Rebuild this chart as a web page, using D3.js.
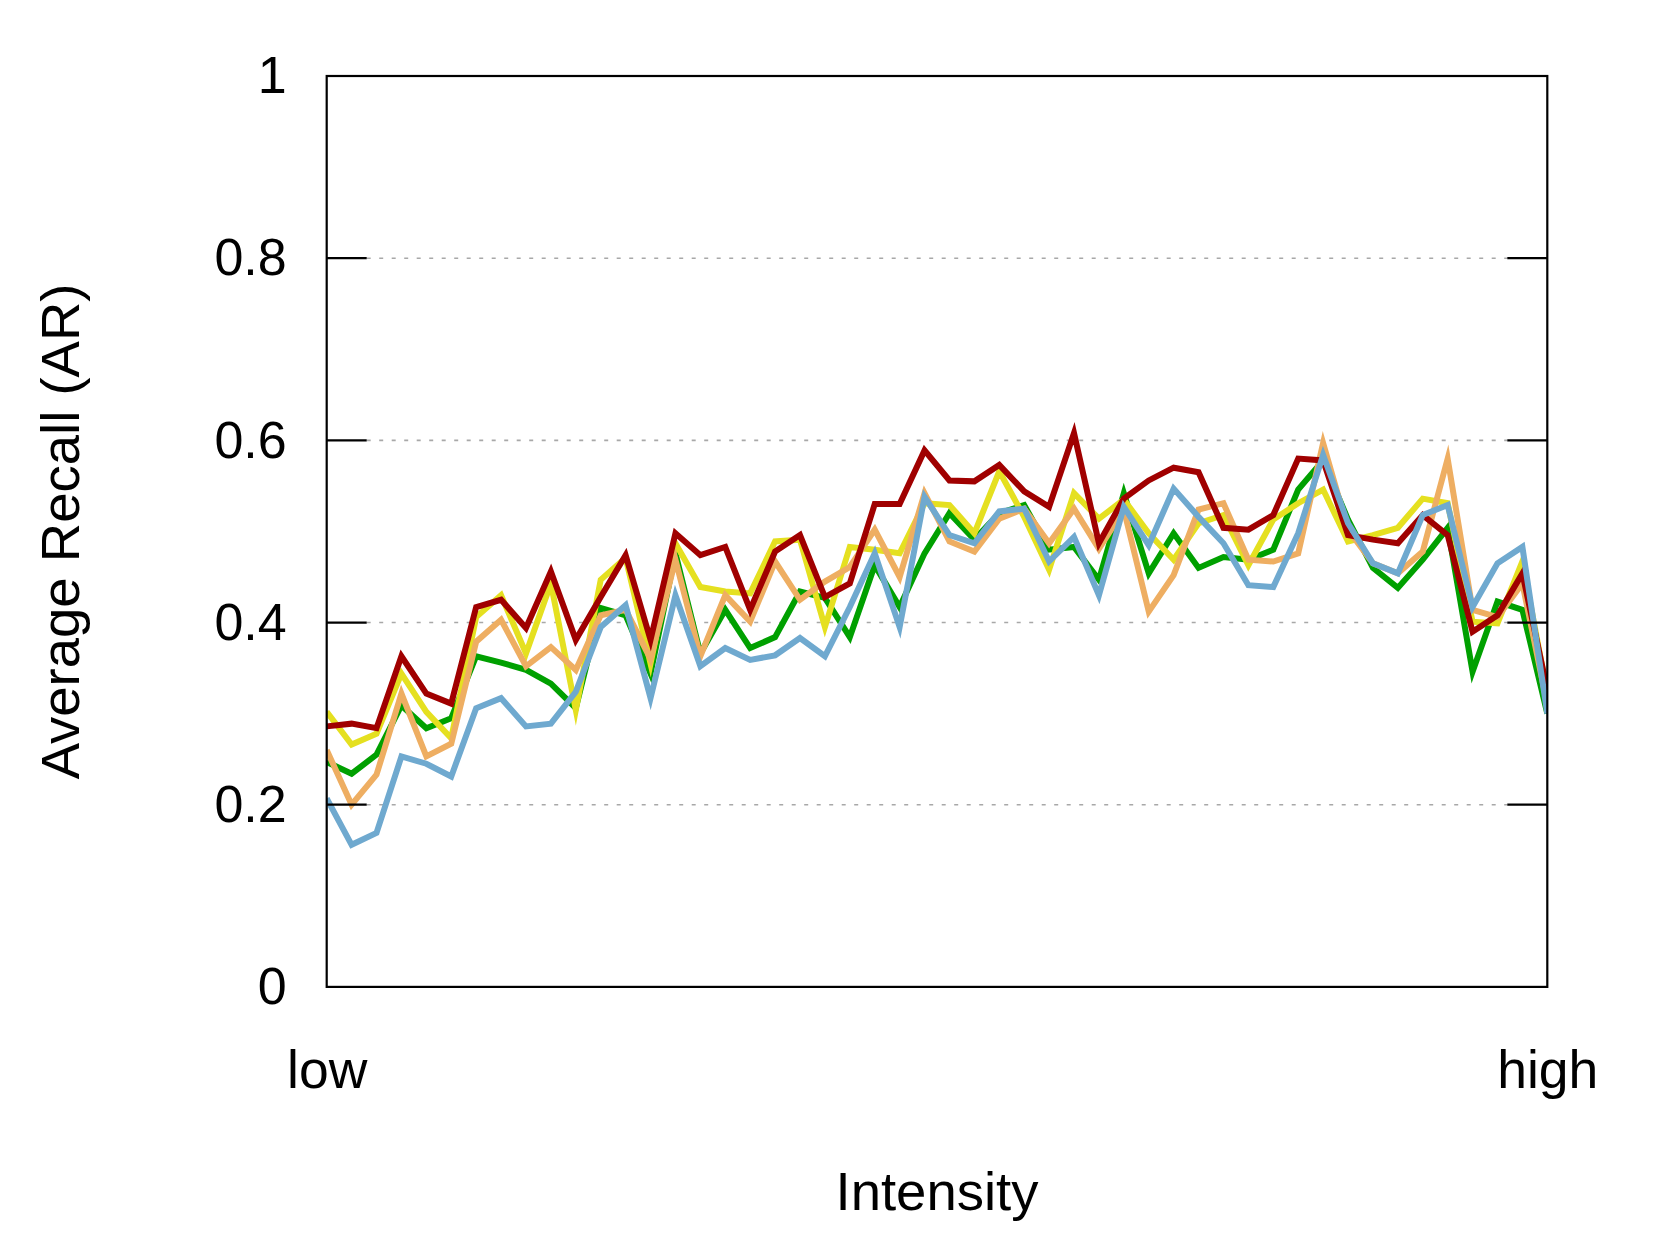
<!DOCTYPE html>
<html>
<head>
<meta charset="utf-8">
<script src="https://cdn.jsdelivr.net/npm/d3@7"></script>
<style>
  html, body { margin: 0; padding: 0; background: #fff; }
  svg { display: block; }
  text { font-family: "Liberation Sans", Arial, Helvetica, sans-serif; fill: #000; }
</style>
</head>
<body>
<svg id="chart" width="1661" height="1246"></svg>
<script>
// ---- data ----
const xLabels = ["low", "high"];
const yTickValues = [0, 0.2, 0.4, 0.6, 0.8, 1];
const yTickLabels = ["0", "0.2", "0.4", "0.6", "0.8", "1"];
const yTitle = "Average Recall (AR)";
const xTitle = "Intensity";

const seriesGreen = [0.247,0.234,0.255,0.309,0.284,0.295,0.363,0.356,0.348,0.333,
  0.306,0.416,0.408,0.344,0.476,0.366,0.414,0.372,0.384,0.434,
  0.427,0.384,0.463,0.417,0.476,0.520,0.491,0.520,0.529,0.480,
  0.483,0.447,0.542,0.454,0.498,0.460,0.472,0.469,0.480,0.546,
  0.578,0.513,0.460,0.438,0.469,0.504,0.346,0.423,0.414,0.300];
const seriesYellow = [0.302,0.266,0.278,0.344,0.302,0.273,0.406,0.430,0.366,0.443,
  0.304,0.447,0.471,0.355,0.487,0.439,0.434,0.432,0.489,0.491,
  0.395,0.483,0.480,0.476,0.531,0.529,0.498,0.566,0.516,0.458,
  0.542,0.514,0.535,0.498,0.469,0.509,0.518,0.463,0.513,0.531,
  0.546,0.489,0.496,0.504,0.536,0.531,0.401,0.399,0.467,0.322];
const seriesOrange = [0.260,0.200,0.233,0.322,0.253,0.267,0.379,0.403,0.352,0.373,
  0.348,0.408,0.414,0.360,0.469,0.363,0.430,0.401,0.467,0.425,
  0.445,0.461,0.502,0.450,0.542,0.489,0.478,0.514,0.525,0.487,
  0.525,0.481,0.524,0.412,0.452,0.524,0.531,0.469,0.467,0.476,
  0.597,0.502,0.465,0.454,0.478,0.580,0.414,0.406,0.443,0.310];
const seriesRed = [0.286,0.289,0.284,0.363,0.322,0.311,0.417,0.425,0.394,0.456,
  0.381,0.428,0.474,0.381,0.498,0.474,0.483,0.414,0.478,0.496,
  0.428,0.443,0.530,0.530,0.589,0.556,0.555,0.573,0.544,0.527,
  0.608,0.487,0.536,0.556,0.570,0.565,0.504,0.502,0.518,0.580,
  0.578,0.496,0.491,0.487,0.518,0.496,0.390,0.408,0.454,0.326];
const seriesBlue = [0.207,0.156,0.169,0.253,0.245,0.231,0.306,0.317,0.286,0.289,
  0.324,0.395,0.419,0.317,0.430,0.352,0.372,0.359,0.364,0.383,
  0.363,0.417,0.476,0.395,0.538,0.496,0.487,0.522,0.525,0.467,
  0.494,0.430,0.527,0.485,0.547,0.516,0.487,0.441,0.439,0.498,
  0.584,0.509,0.465,0.454,0.518,0.529,0.417,0.465,0.483,0.300];

const seriesList = [
  { values: seriesGreen,  color: "#00a000" },
  { values: seriesYellow, color: "#e5e020" },
  { values: seriesOrange, color: "#eeae62" },
  { values: seriesRed,    color: "#a00000" },
  { values: seriesBlue,   color: "#6fa9cf" }
];

// ---- layout ----
const plotL = 326.7, plotR = 1547.3, plotT = 76, plotB = 986.9;
const svg = d3.select("#chart");

const x = d3.scaleLinear().domain([0, seriesRed.length - 1]).range([plotL, plotR]);
const y = d3.scaleLinear().domain([0, 1]).range([plotB, plotT]);

// grid lines
const inner = yTickValues.filter(v => v > 0 && v < 1);
svg.append("g").selectAll("line").data(inner).join("line")
  .attr("x1", plotL + 40).attr("x2", plotR - 40)
  .attr("y1", d => y(d)).attr("y2", d => y(d))
  .attr("stroke", "#a8a8a8").attr("stroke-width", 1.6)
  .attr("stroke-dasharray", "4,8.5");

// series
const clipId = "plotclip";
svg.append("clipPath").attr("id", clipId).append("rect")
  .attr("x", plotL).attr("y", plotT).attr("width", plotR - plotL).attr("height", plotB - plotT);

const line = d3.line().x((d, i) => x(i)).y(d => y(d));
svg.append("g").attr("clip-path", `url(#${clipId})`)
  .selectAll("path").data(seriesList).join("path")
  .attr("d", d => line(d.values))
  .attr("fill", "none")
  .attr("stroke", d => d.color)
  .attr("stroke-width", 6)
  .attr("stroke-linejoin", "miter")
  .attr("stroke-miterlimit", 10);

// inner ticks (left and right)
const tickG = svg.append("g");
tickG.selectAll("line.l").data(inner).join("line").attr("class", "l")
  .attr("x1", plotL).attr("x2", plotL + 40)
  .attr("y1", d => y(d)).attr("y2", d => y(d))
  .attr("stroke", "#000").attr("stroke-width", 2.2);
tickG.selectAll("line.r").data(inner).join("line").attr("class", "r")
  .attr("x1", plotR - 40).attr("x2", plotR)
  .attr("y1", d => y(d)).attr("y2", d => y(d))
  .attr("stroke", "#000").attr("stroke-width", 2.2);

// frame
svg.append("rect")
  .attr("x", plotL).attr("y", plotT)
  .attr("width", plotR - plotL).attr("height", plotB - plotT)
  .attr("fill", "none").attr("stroke", "#000").attr("stroke-width", 2.2);

// y axis labels
const yAxis = d3.axisLeft(y)
  .tickValues(yTickValues)
  .tickFormat((d, i) => yTickLabels[i])
  .tickSize(0).tickPadding(40);
const yg = svg.append("g").attr("transform", `translate(${plotL},0)`).call(yAxis);
yg.select(".domain").remove();
yg.selectAll("text").attr("font-size", 52).attr("font-family", "Liberation Sans, Arial, sans-serif").attr("fill", "#000");

// x axis labels
const xAxis = d3.axisBottom(x)
  .tickValues([0, seriesRed.length - 1])
  .tickFormat((d, i) => xLabels[i])
  .tickSize(0);
const xg = svg.append("g").attr("transform", `translate(0,${plotB})`).call(xAxis);
xg.select(".domain").remove();
xg.selectAll("text").attr("y", 101).attr("dy", 0)
  .attr("font-size", 53.5).attr("font-family", "Liberation Sans, Arial, sans-serif").attr("fill", "#000");

// titles
svg.append("text")
  .attr("x", (plotL + plotR) / 2).attr("y", 1210)
  .attr("text-anchor", "middle").attr("font-size", 54.5)
  .text(xTitle);

svg.append("text")
  .attr("transform", `translate(79,${(plotT + plotB) / 2}) rotate(-90)`)
  .attr("text-anchor", "middle").attr("font-size", 54.5)
  .text(yTitle);
</script>
</body>
</html>
